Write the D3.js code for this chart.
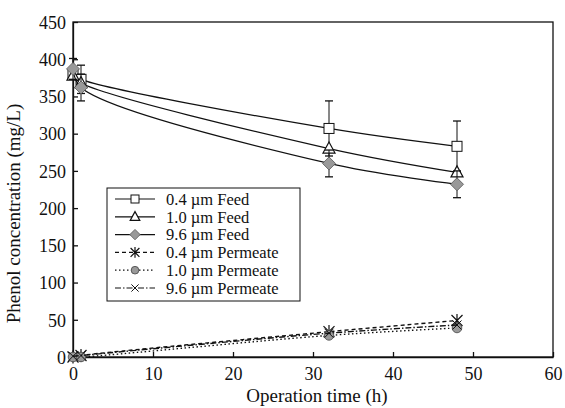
<!DOCTYPE html>
<html>
<head>
<meta charset="utf-8">
<script src="https://cdn.jsdelivr.net/npm/d3@7"></script>
<style>
  body { margin: 0; background: #fff; }
  svg text { font-family: "Liberation Serif", "Times New Roman", serif; fill: #111; }
</style>
</head>
<body>
<svg width="565" height="408"></svg>
<script>
// data
const times = [0, 1, 32, 48];
const feed04 = [380, 373, 307, 283];
const feed10 = [378, 368, 280, 248];
const feed96 = [387, 362, 260, 232];
const perm04 = [0, 2, 34, 49];
const perm10 = [0, 0, 29, 39];
const perm96 = [1, 2, 32, 43];
const err04 = [0, 19, 37, 34];
const err96 = [14, 18, 18, 18];
const xTicks = [0, 10, 20, 30, 40, 50, 60];
const yTicks = [0, 50, 100, 150, 200, 250, 300, 350, 400, 450];

const series = [
  { name: "0.4 \u00b5m Feed", values: feed04, err: err04, marker: "square", dash: null },
  { name: "1.0 \u00b5m Feed", values: feed10, err: null, marker: "triangle", dash: null },
  { name: "9.6 \u00b5m Feed", values: feed96, err: err96, marker: "diamond", dash: null },
  { name: "0.4 \u00b5m Permeate", values: perm04, err: null, marker: "star", dash: "4,3" },
  { name: "1.0 \u00b5m Permeate", values: perm10, err: null, marker: "circle", dash: "1.5,2.5" },
  { name: "9.6 \u00b5m Permeate", values: perm96, err: null, marker: "cross", dash: "6,2,1.5,2" }
];

const svg = d3.select("svg");
const margin = { top: 22, right: 12, bottom: 51, left: 73 };
const width = 565 - margin.left - margin.right;
const height = 408 - margin.top - margin.bottom;

const x = d3.scaleLinear().domain([0, 60]).range([0, width]);
const y = d3.scaleLinear().domain([0, 450]).range([height, 0]);

const g = svg.append("g")
  .attr("transform", `translate(${margin.left},${margin.top})`);

// axes, ticks pointing inward
const xAxis = g.append("g")
  .attr("transform", `translate(0,${height})`)
  .call(d3.axisBottom(x).tickValues(xTicks).tickSizeInner(-5).tickSizeOuter(0).tickPadding(9));
const yAxis = g.append("g")
  .call(d3.axisLeft(y).tickValues(yTicks).tickSizeInner(-5).tickSizeOuter(0).tickPadding(7));
[xAxis, yAxis].forEach(a => {
  a.selectAll("text").style("font-size", "18px").style("font-family", "Liberation Serif, serif");
  a.selectAll("line, path").attr("stroke", "#111").attr("stroke-width", 1.3);
});
yAxis.selectAll("text").attr("dy", "0.35em");
xAxis.selectAll("text").attr("dy", "0.75em");

// frame
g.append("rect")
  .attr("width", width).attr("height", height)
  .attr("fill", "none").attr("stroke", "#111").attr("stroke-width", 1.3);

// titles
svg.append("text")
  .attr("x", margin.left + width / 2 + 4).attr("y", 402)
  .attr("text-anchor", "middle").style("font-size", "19px")
  .text("Operation time (h)");
svg.append("text")
  .attr("transform", `translate(20,${margin.top + height / 2 + 24}) rotate(-90)`)
  .attr("text-anchor", "middle").style("font-size", "19px")
  .text("Phenol concentration (mg/L)");

function drawMarker(sel, type, size) {
  const s = size;
  if (type === "square") {
    sel.append("rect").attr("x", -s / 2).attr("y", -s / 2).attr("width", s).attr("height", s)
      .attr("fill", "#fff").attr("stroke", "#111").attr("stroke-width", 1);
  } else if (type === "triangle") {
    sel.append("path").attr("d", `M0,${-s * 0.65}L${s * 0.6},${s * 0.45}L${-s * 0.6},${s * 0.45}Z`)
      .attr("fill", "#fff").attr("stroke", "#111").attr("stroke-width", 1.2);
  } else if (type === "diamond") {
    sel.append("path").attr("d", `M0,${-s * 0.65}L${s * 0.65},0L0,${s * 0.65}L${-s * 0.65},0Z`)
      .attr("fill", "#999").attr("stroke", "#555").attr("stroke-width", 0.8);
  } else if (type === "circle") {
    sel.append("circle").attr("r", s * 0.48)
      .attr("fill", "#999").attr("stroke", "#444").attr("stroke-width", 0.8);
  } else if (type === "star") {
    const r = s * 0.55;
    sel.append("path")
      .attr("d", `M${-r},${-r}L${r},${r}M${-r},${r}L${r},${-r}M0,${-r * 1.2}L0,${r * 1.2}`)
      .attr("stroke", "#111").attr("stroke-width", 1.2);
  } else if (type === "cross") {
    const r = s * 0.45;
    sel.append("path").attr("d", `M${-r},${-r}L${r},${r}M${-r},${r}L${r},${-r}`)
      .attr("stroke", "#111").attr("stroke-width", 1);
  }
}

const line = d3.line()
  .x(d => x(d[0])).y(d => y(d[1]))
  .curve(d3.curveCatmullRom.alpha(0.5));

series.forEach(s => {
  const pts = times.map((t, i) => [t, s.values[i], s.err ? s.err[i] : 0]);

  // error bars
  if (s.err) {
    const eb = g.append("g");
    pts.filter(p => p[2] > 0).forEach(p => {
      const cx = x(p[0]), y1 = y(p[1] + p[2]), y2 = y(p[1] - p[2]);
      eb.append("line").attr("x1", cx).attr("x2", cx).attr("y1", y1).attr("y2", y2)
        .attr("stroke", "#111").attr("stroke-width", 1);
      [y1, y2].forEach(yy => eb.append("line")
        .attr("x1", cx - 4).attr("x2", cx + 4).attr("y1", yy).attr("y2", yy)
        .attr("stroke", "#111").attr("stroke-width", 1.3));
    });
  }

  g.append("path").datum(pts)
    .attr("d", line)
    .attr("fill", "none").attr("stroke", "#111").attr("stroke-width", s.dash ? 1.4 : 1.2)
    .attr("stroke-dasharray", s.dash);

  g.selectAll(null).data(pts).enter().append("g")
    .attr("transform", d => `translate(${x(d[0])},${y(d[1])})`)
    .each(function () { drawMarker(d3.select(this), s.marker, 10); });
});

// legend
const lx = 107, ly = 188, lw = 193, lh = 113, rowH = 17.8;
const legend = svg.append("g");
legend.append("rect").attr("x", lx).attr("y", ly).attr("width", lw).attr("height", lh)
  .attr("fill", "#fff").attr("stroke", "#111").attr("stroke-width", 1);
series.forEach((s, i) => {
  const cy = ly + 11 + i * rowH;
  legend.append("line").attr("x1", lx + 8).attr("x2", lx + 48).attr("y1", cy).attr("y2", cy)
    .attr("stroke", "#111").attr("stroke-width", 1.2).attr("stroke-dasharray", s.dash);
  const m = legend.append("g").attr("transform", `translate(${lx + 28},${cy})`);
  drawMarker(m, s.marker, 8);
  legend.append("text").attr("x", lx + 59).attr("y", cy).attr("dy", "0.35em")
    .style("font-size", "16.5px").text(s.name);
});
</script>
</body>
</html>
